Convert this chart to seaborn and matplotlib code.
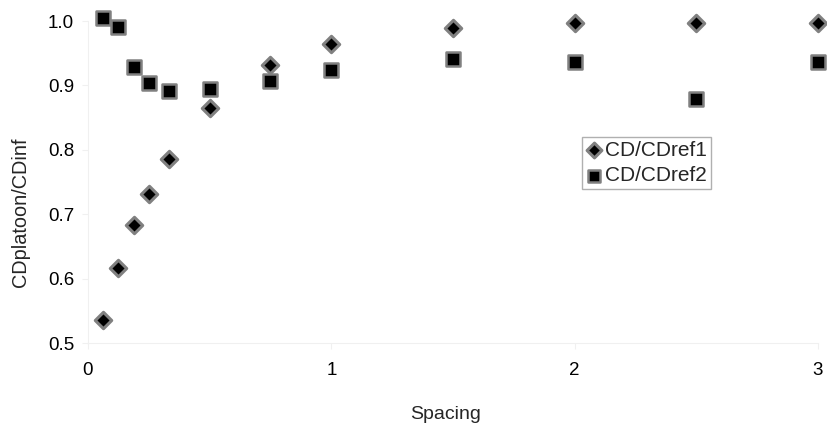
import matplotlib
matplotlib.use("Agg")
import matplotlib.pyplot as plt
import seaborn as sns
import pandas as pd

spacing = [0.0625, 0.125, 0.1875, 0.25, 0.333, 0.5, 0.75, 1.0, 1.5, 2.0, 2.5, 3.0]
cd_ref1 = [0.535, 0.617, 0.683, 0.732, 0.786, 0.865, 0.931, 0.964, 0.989, 0.997, 0.997, 0.997]
cd_ref2 = [1.005, 0.991, 0.929, 0.904, 0.892, 0.895, 0.907, 0.924, 0.941, 0.937, 0.879, 0.937]
series_names = ["CD/CDref1", "CD/CDref2"]
x_ticks = [0, 1, 2, 3]
y_ticks = [0.5, 0.6, 0.7, 0.8, 0.9, 1.0]

sns.set_theme(style="white")
plt.rcParams["font.family"] = ["Liberation Sans", "DejaVu Sans"]

df1 = pd.DataFrame({"Spacing": spacing, "value": cd_ref1})
df2 = pd.DataFrame({"Spacing": spacing, "value": cd_ref2})

fig = plt.figure(figsize=(8.28, 4.28), dpi=100)
ax = fig.add_axes([88 / 828, 1 - 343 / 428, 730 / 828, 322 / 428])

sns.scatterplot(data=df1, x="Spacing", y="value", ax=ax, marker="D", s=70,
                color="black", edgecolor="#808080", linewidth=2.2,
                label=series_names[0], clip_on=False, zorder=3)
sns.scatterplot(data=df2, x="Spacing", y="value", ax=ax, marker="s", s=95,
                color="black", edgecolor="#808080", linewidth=1.8,
                label=series_names[1], clip_on=False, zorder=3)

ax.set_xlim(0, 3)
ax.set_ylim(0.5, 1.0)
ax.set_xticks(x_ticks)
ax.set_xticklabels([str(t) for t in x_ticks])
ax.set_yticks(y_ticks)
ax.set_yticklabels([f"{t:.1f}" for t in y_ticks])
ax.tick_params(axis="both", labelsize=13.5, colors="#f0f0f0", labelcolor="black",
               length=4, width=0.8, direction="out", left=True, bottom=True)
ax.tick_params(axis="x", pad=10)
ax.tick_params(axis="y", pad=6)

for side in ["left", "bottom"]:
    ax.spines[side].set_color("#f0f0f0")
    ax.spines[side].set_linewidth(0.8)
for side in ["top", "right"]:
    ax.spines[side].set_visible(False)

ax.set_xlabel("Spacing", fontsize=14, va="center", ha="center")
ax.xaxis.set_label_coords(0.490, -0.221)
ax.set_ylabel("CDplatoon/CDinf", fontsize=14.3, va="center", ha="center")
ax.yaxis.set_label_coords(-0.093, 0.406)

leg = ax.legend(loc="upper left", bbox_to_anchor=(0.6767, 0.6409), fontsize=15,
                frameon=True, fancybox=False, framealpha=1, edgecolor="#b0b0b0",
                handletextpad=0.15, borderpad=0.2, labelspacing=0.3,
                handlelength=0.75, borderaxespad=0, markerscale=0.9)
leg.get_frame().set_linewidth(1.0)

fig.savefig("out.png", dpi=100, facecolor="white")
